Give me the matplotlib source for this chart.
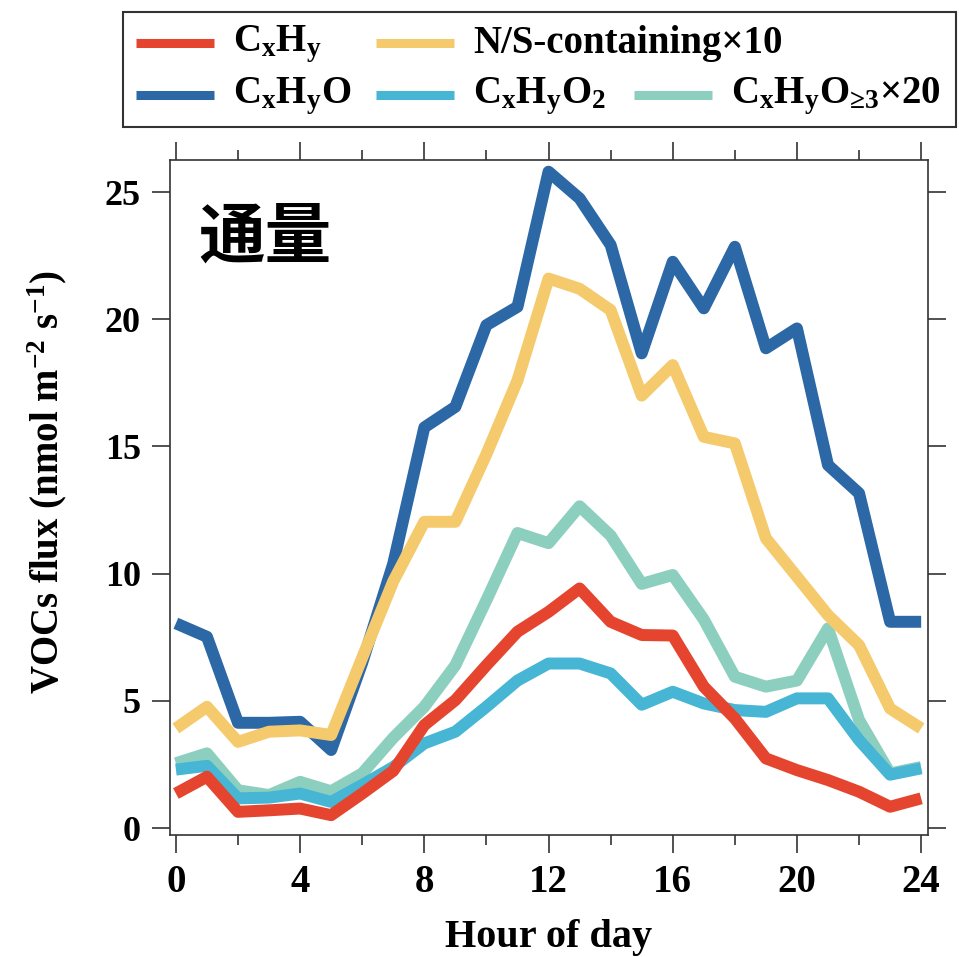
import matplotlib
matplotlib.use("Agg")
import matplotlib.pyplot as plt
from matplotlib.lines import Line2D
from matplotlib.patches import Rectangle
from matplotlib.ticker import MultipleLocator

plt.rcParams['font.family'] = ['Liberation Serif', 'DejaVu Serif']
plt.rcParams['font.weight'] = 'bold'
plt.rcParams['mathtext.fontset'] = 'custom'
plt.rcParams['mathtext.rm'] = 'Liberation Serif:bold'
plt.rcParams['mathtext.it'] = 'Liberation Serif:bold'
plt.rcParams['mathtext.bf'] = 'Liberation Serif:bold'
plt.rcParams['mathtext.sf'] = 'Liberation Serif:bold'

# ---------------- data ----------------
hours = list(range(25))
cxhy = [1.36, 2.02, 0.64, 0.70, 0.77, 0.51, 1.36, 2.25, 4.05, 5.03, 6.40, 7.72, 8.50,
        9.42, 8.11, 7.59, 7.57, 5.56, 4.31, 2.74, 2.28, 1.89, 1.43, 0.84, 1.17]
cxhyo = [8.05, 7.52, 4.14, 4.14, 4.18, 3.07, 6.50, 10.40, 15.75, 16.56, 19.77, 20.49, 25.80,
         24.75, 22.92, 18.66, 22.26, 20.43, 22.85, 18.86, 19.64, 14.27, 13.16, 8.11, 8.11]
ns_x10 = [3.92, 4.77, 3.39, 3.79, 3.84, 3.66, 6.70, 9.70, 12.04, 12.04, 14.70, 17.60, 21.60,
          21.20, 20.36, 17.00, 18.20, 15.38, 15.12, 11.39, 9.88, 8.37, 7.19, 4.70, 3.92]
cxhyo2 = [2.30, 2.45, 1.17, 1.20, 1.36, 1.03, 1.70, 2.40, 3.33, 3.79, 4.77, 5.80, 6.47,
          6.47, 6.08, 4.85, 5.36, 4.90, 4.64, 4.57, 5.10, 5.10, 3.46, 2.10, 2.35]
cxhyo3_x20 = [2.55, 2.94, 1.49, 1.30, 1.82, 1.45, 2.15, 3.55, 4.77, 6.40, 8.96, 11.60, 11.20,
              12.65, 11.50, 9.60, 9.95, 8.20, 5.95, 5.56, 5.80, 7.85, 4.25, 2.15, 2.40]

labels = {
    'cxhy': r'C$_x$H$_y$',
    'ns': 'N/S-containing×10',
    'cxhyo': r'C$_x$H$_y$O',
    'cxhyo2': r'C$_x$H$_y$O$_2$',
    'cxhyo3': r'C$_x$H$_y$O$_{\mathrm{≥3}}$×20',
}
colors = {
    'cxhy': '#E5452F',
    'ns': '#F4CA6C',
    'cxhyo': '#2C67A6',
    'cxhyo2': '#47B5D4',
    'cxhyo3': '#8DCFBF',
}
xticks = [0, 4, 8, 12, 16, 20, 24]
yticks = [0, 5, 10, 15, 20, 25]

# ---------------- figure ----------------
W, H = 959, 957
fig = plt.figure(figsize=(W / 100, H / 100), dpi=100)
ax = fig.add_axes([170 / W, 1 - 835 / H, (928 - 170) / W, (835 - 160) / H])

lw = 8.6
series = [('cxhyo', cxhyo, 1), ('cxhyo3', cxhyo3_x20, 2), ('cxhyo2', cxhyo2, 3),
          ('cxhy', cxhy, 4), ('ns', ns_x10, 5)]
for key, vals, z in series:
    ax.plot(hours, vals, color=colors[key], lw=lw, zorder=z,
            solid_capstyle='butt', solid_joinstyle='round')

ax.set_xlim(-0.19, 24.22)
ax.set_ylim(-0.27, 26.26)
ax.set_xticks(xticks)
ax.xaxis.set_minor_locator(MultipleLocator(2))
ax.set_yticks(yticks)

for s in ax.spines.values():
    s.set_linewidth(1.2)
    s.set_color('#333333')

ax.tick_params(axis='x', which='major', direction='out', length=13, width=1.2,
               top=True, bottom=True, labeltop=False, labelsize=28, pad=8, color='#333333')
ax.tick_params(axis='x', which='minor', direction='out', length=7, width=1.2,
               top=True, bottom=True, color='#333333')
ax.tick_params(axis='y', which='major', direction='out', length=13, width=1.2,
               left=True, right=True, labelright=False, labelsize=26, pad=8, color='#333333')
for lab in ax.get_xticklabels() + ax.get_yticklabels():
    lab.set_fontweight('bold')

ax.set_xlabel('Hour of day', fontsize=29, fontweight='bold', va='baseline')
ax.xaxis.set_label_coords(549 / W, 1 - 947 / H, transform=fig.transFigure)
ax.set_ylabel(r'VOCs flux (nmol m$^{-2}$ s$^{-1}$)', fontsize=28, fontweight='bold',
              va='center')
ax.yaxis.set_label_coords(47 / W, 1 - 482 / H, transform=fig.transFigure)

ax.text(0.038, 0.884, '通量', transform=ax.transAxes, fontsize=48, fontweight='bold',
        family=['Noto Sans CJK SC', 'DejaVu Sans'], ha='left', va='center', color='black')

# ---------------- legend (manual layout) ----------------
fig.add_artist(Rectangle((123 / W, 1 - 127 / H), (956 - 123) / W, (127 - 12) / H,
                         transform=fig.transFigure, fill=False, lw=1.5, ec='#333333'))
entries = [
    ('cxhy', 136, 43), ('ns', 376, 43),
    ('cxhyo', 136, 95), ('cxhyo2', 376, 95), ('cxhyo3', 634, 95),
]
for key, x0, yc in entries:
    fig.add_artist(Line2D([x0 / W, (x0 + 78) / W], [1 - yc / H, 1 - yc / H],
                          transform=fig.transFigure, color=colors[key], lw=6.5,
                          solid_capstyle='butt'))
    fig.text((x0 + 97) / W, 1 - (yc + 1) / H, labels[key], fontsize=28, fontweight='bold',
             ha='left', va='center')

fig.savefig('out.png', dpi=100)
